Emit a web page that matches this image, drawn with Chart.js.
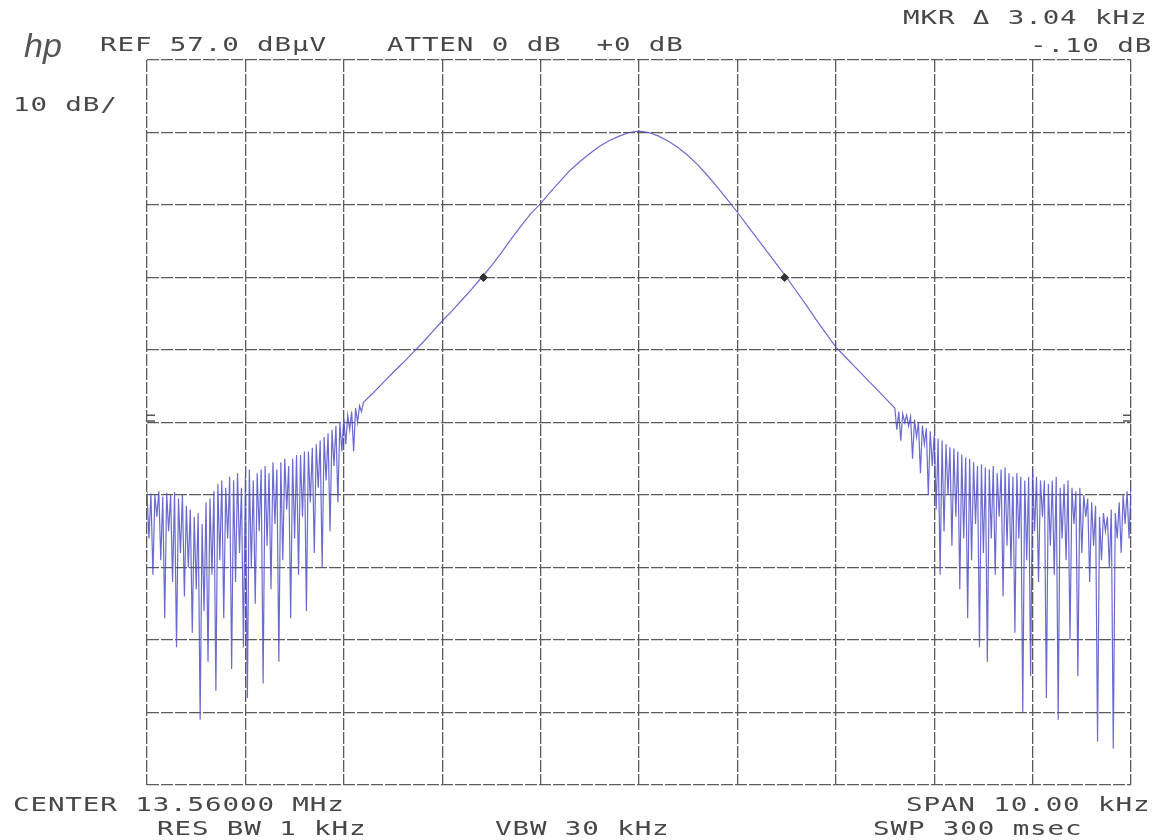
<!DOCTYPE html>
<html lang="en">
<head>
<meta charset="UTF-8">
<title>Spectrum analyzer plot</title>
<script src="https://cdn.jsdelivr.net/npm/chart.js"></script>
<style>
  body { margin: 0; background: #fff; }
  #wrap { position: relative; width: 1159px; height: 840px; overflow: hidden; }
  #plot { position: absolute; left: 0; top: 0; }
  .lbl {
    position: absolute;
    font-family: "DejaVu Sans Mono", monospace;
    font-size: 19px;
    line-height: 19px;
    letter-spacing: 0.6px;
    color: #474747;
    white-space: pre;
    transform: scaleX(1.45);
    transform-origin: left top;
  }
  .hp {
    position: absolute; left: 24px; top: 26px;
    font-family: "Liberation Sans", sans-serif;
    font-style: italic; font-size: 34px; color: #555;
  }
</style>
</head>
<body>
<div id="wrap">
  <canvas id="plot" width="1159" height="840"></canvas>
  <div class="hp">hp</div>
  <div class="lbl" style="left:100px;top:35px">REF 57.0 dBµV</div>
  <div class="lbl" style="left:387px;top:35px">ATTEN 0 dB  +0 dB</div>
  <div class="lbl" style="left:903px;top:8px">MKR Δ 3.04 kHz</div>
  <div class="lbl" style="left:1030px;top:36px">-.10 dB</div>
  <div class="lbl" style="left:13px;top:95px">10 dB/</div>
  <div class="lbl" style="left:13px;top:795px">CENTER 13.56000 MHz</div>
  <div class="lbl" style="left:157px;top:819px">RES BW 1 kHz</div>
  <div class="lbl" style="left:495px;top:819px">VBW 30 kHz</div>
  <div class="lbl" style="left:906px;top:795px">SPAN 10.00 kHz</div>
  <div class="lbl" style="left:873px;top:819px">SWP 300 msec</div>
</div>

<script>
// frequency offset from 13.56000 MHz in kHz, level in dBuV
const freqTicks = [-5, -4, -3, -2, -1, 0, 1, 2, 3, 4, 5];
const levelTicks = [-43, -33, -23, -13, -3, 7, 17, 27, 37, 47, 57];

// left noise floor, sampled every 0.02 kHz from -5.00
const leftStart = -5.0;
const noiseStep = 0.02;
const leftLevels = [
  -2.6, -9, -2.8, -14, -3, -6, -2.5, -12, -3.2, -20,
  -2.7, -8, -3, -15, -2.6, -24, -3.5, -11, -3, -17,
  -4.5, -13, -5, -22, -6, -16, -5.5, -34, -7, -19,
  -4, -26, -3.5, -14, -2.5,
  -30, -1.5, -12, -1, -20, -2, -9, -0.5, -27, -1,
  -15, 0, -11, -2, -24, -0.5, -31, 0.5, -13, -1,
  -18, 0, -8,
  0.5, -29, 1, -10, 0, -16, 1.5, -7, 0.5, -26,
  1.5, -12, 2, -5, 1, -20, 2, -9, 2.5, -14,
  2.5, -6, 3, -19, 3, -4, 3.5, -11, 4, -2,
  4.5, -13, 5, -1, 5.5, -8, 6, 1, 6.5, -4,
  7, 3,
  7.5, 4, 8, 6, 8.5, 3, 9, 7, 9.3, 8.5
];

// main lobe, sampled every 0.1 kHz from -2.8
const midStart = -2.8;
const midStep = 0.1;
const midLevels = [
  9.8, 11.1, 12.5, 13.9, 15.2, 16.6, 18.0, 19.5, 21.0, 22.4,
  23.9, 25.4, 27.0, 28.6, 30.4, 32.3, 34.1, 35.8, 37.2, 38.8,
  40.3, 41.8, 43.0, 44.1, 45.1, 45.9, 46.5, 47.0, 47.2, 47.0,
  46.5, 45.8, 44.9, 43.8, 42.5, 41.0, 39.4, 37.7, 36.0, 34.2,
  32.4, 30.6, 28.8, 27.0, 25.1, 23.2, 21.2, 19.3, 17.4, 16.0,
  14.6, 13.2, 11.8, 10.4
];

// right noise floor, sampled every 0.02 kHz from 2.60
const rightStart = 2.6;
const rightLevels = [
  9.0, 6, 8.5, 4.5, 8.2, 7, 8, 6.5, 7.8, 2,
  7.4, 5, 7, 0, 6.6, 4, 6.2, -3, 5.8, 1,
  5.2, -5, 4.8, -14, 4.5, -8, 4, -3, 3.6, -10,
  3.4, -6, 3, -16, 2.6, -9, 2.2, -20, 2, -12,
  1.5, -7, 1, -24, 1.2, -11, 0.8, -26, 0.5, -9,
  1, -14, 0, -6, 0.5, -17, 0.8, -10, 0, -13,
  -0.5, -22, 0, -9, -0.5, -33, -1, -12, -0.5, -28,
  0.5, -8, -0.5, -15, -1, -6, -1, -31, -1.5, -10,
  -1, -14, -0.5, -34, -2, -9, -1.5, -12, -1, -23,
  -2, -7, -2.5, -28, -2, -11, -3, -6, -3.5, -15,
  -4, -10, -4.5, -37, -6, -12, -5.5, -8, -6, -13,
  -5, -38, -5.5, -9, -4, -11, -3, -7, -2.5, -9,
  -2
];

// delta marker pair
const markerFreqs = [-1.58, 1.48];
const markerLevels = [27, 27];

// display-line marks on the frame edges
const edgeMarkLevels = [8.0, 7.2];

function segment(start, step, levels) {
  return levels.map((v, i) => ({ x: +(start + i * step).toFixed(3), y: v }));
}

const trace = [
  ...segment(leftStart, noiseStep, leftLevels),
  ...segment(midStart, midStep, midLevels),
  ...segment(rightStart, noiseStep, rightLevels)
];

const markers = markerFreqs.map((f, i) => ({ x: f, y: markerLevels[i] }));

const edgeMarks = {
  id: "edgeMarks",
  afterDatasetsDraw(chart) {
    const { ctx, chartArea, scales } = chart;
    ctx.save();
    ctx.strokeStyle = "#555";
    ctx.lineWidth = 1.5;
    edgeMarkLevels.forEach(l => {
      const y = scales.y.getPixelForValue(l);
      ctx.beginPath();
      ctx.moveTo(chartArea.left, y);
      ctx.lineTo(chartArea.left + 8, y);
      ctx.moveTo(chartArea.right - 8, y);
      ctx.lineTo(chartArea.right, y);
      ctx.stroke();
    });
    ctx.restore();
  }
};

const setTicks = values => scale => { scale.ticks = values.map(v => ({ value: v })); };

new Chart(document.getElementById("plot").getContext("2d"), {
  type: "scatter",
  data: {
    datasets: [
      {
        data: markers,
        pointStyle: "rectRot",
        pointRadius: 4,
        backgroundColor: "#333",
        borderColor: "#333",
        showLine: false
      },
      {
        data: trace,
        showLine: true,
        borderColor: "rgba(80, 80, 200, 0.85)",
        borderWidth: 1.2,
        pointRadius: 0,
        tension: 0
      }
    ]
  },
  options: {
    responsive: false,
    animation: false,
    devicePixelRatio: 1,
    layout: { padding: { left: 147, right: 28, top: 60, bottom: 55 } },
    plugins: { legend: { display: false }, tooltip: { enabled: false } },
    scales: {
      x: {
        type: "linear", min: -5, max: 5,
        afterBuildTicks: setTicks(freqTicks),
        ticks: { display: false },
        grid: { color: "#5a5a5a", lineWidth: 1.3, drawTicks: false },
        border: { display: false, dash: [12, 2] }
      },
      y: {
        type: "linear", min: -43, max: 57,
        afterBuildTicks: setTicks(levelTicks),
        ticks: { display: false },
        grid: { color: "#5a5a5a", lineWidth: 1.3, drawTicks: false },
        border: { display: false, dash: [12, 2] }
      }
    }
  },
  plugins: [edgeMarks]
});
</script>
</body>
</html>
